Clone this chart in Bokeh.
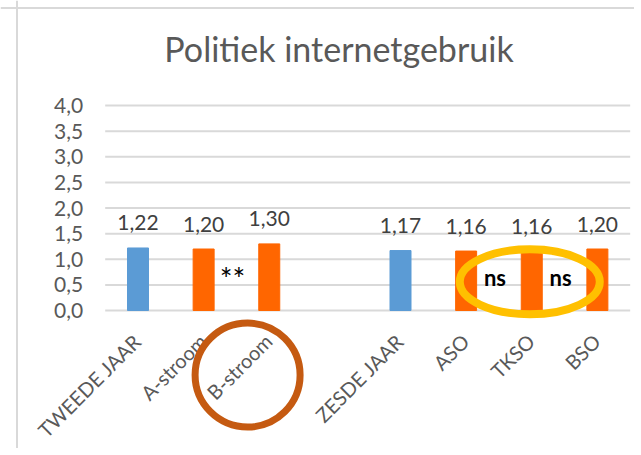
import math
from bokeh.plotting import figure
from bokeh.models import Range1d, ColumnDataSource, Span
from bokeh.core.properties import value
from bokeh.embed import file_html
from bokeh.resources import INLINE

# ---------------- data ----------------
chart_title = "Politiek internetgebruik"
categories = ["TWEEDE JAAR", "A-stroom", "B-stroom", "", "ZESDE JAAR", "ASO", "TKSO", "BSO"]
scores = [1.22, 1.20, 1.30, None, 1.17, 1.16, 1.16, 1.20]
kinds = ["year", "track", "track", None, "year", "track", "track", "track"]
y_ticks = [0.0, 0.5, 1.0, 1.5, 2.0, 2.5, 3.0, 3.5, 4.0]
y_tick_labels = ["0,0", "0,5", "1,0", "1,5", "2,0", "2,5", "3,0", "3,5", "4,0"]
sig_from = ["A-stroom", "ASO", "TKSO"]
sig_to = ["B-stroom", "TKSO", "BSO"]
sig_marks = ["**", "ns", "ns"]

# ---------------- layout ----------------
W, H = 634, 448
PX0, STEP = 137.5, 65.625   # px of first category centre, px per category
PY0, UNIT = 310.0, 51.25    # px of y=0 (from top), px per unit

def dx(px):
    return (px - PX0) / STEP

def dy(py):
    return (PY0 - py) / UNIT

FONT = value("Lato")
GRAY = "#595959"
COLORS = {"year": "#5B9BD5", "track": "#FF6600"}

p = figure(width=W, height=H, output_backend="svg", toolbar_location=None,
           x_range=Range1d(dx(0), dx(W)), y_range=Range1d(dy(H), dy(0)),
           x_axis_type=None, y_axis_type=None, min_border=0,
           background_fill_color="white", border_fill_color="white")
p.grid.visible = False
p.outline_line_color = None

# chart border (left + top)
p.add_layout(Span(location=dx(16.5), dimension="height", line_color="#D9D9D9", line_width=2))
p.add_layout(Span(location=dy(7.5), dimension="width", line_color="#D9D9D9", line_width=2))

# title
p.text(x=[dx(338.5)], y=[dy(48)], text=[chart_title], text_font=FONT,
       text_font_size="34px", text_color=GRAY, text_align="center", text_baseline="middle")

n = len(categories)
# gridlines
p.segment(x0=[-0.5] * len(y_ticks), x1=[n - 0.5] * len(y_ticks), y0=y_ticks, y1=y_ticks,
          line_color="#D9D9D9", line_width=2)

# y tick labels
p.text(x=[-0.5] * len(y_ticks), y=y_ticks, text=y_tick_labels, text_font=FONT,
       text_font_size="21px", text_color=GRAY, text_align="right", text_baseline="middle",
       x_offset=-22)

# bars
idx = [i for i, v in enumerate(scores) if v is not None]
src = ColumnDataSource(dict(
    x=idx,
    top=[scores[i] for i in idx],
    color=[COLORS[kinds[i]] for i in idx],
    label=[f"{scores[i]:.2f}".replace(".", ",") for i in idx],
))
p.vbar(x="x", top="top", bottom=0, width=0.32, color="color", source=src)

# data labels
p.text(x="x", y="top", text="label", source=src, text_font=FONT, text_font_size="21px",
       text_color="#404040", text_align="center", text_baseline="alphabetic", y_offset=-25)

# category labels (rotated)
p.text(x=list(range(n)), y=[0] * n, text=categories, angle=math.pi / 4,
       text_font=FONT, text_font_size="20px", text_color=GRAY,
       text_align="right", text_baseline="middle", x_offset=-1, y_offset=27)

# significance marks
sig_x = [(categories.index(a) + categories.index(b)) / 2 for a, b in zip(sig_from, sig_to)]
sig_src = ColumnDataSource(dict(
    x=sig_x, y=[0.5] * len(sig_x), text=sig_marks,
    style=["bold" if m == "ns" else "normal" for m in sig_marks],
    size=["30px" if m == "**" else "22px" for m in sig_marks],
))
p.text(x="x", y="y", text="text", source=sig_src, text_font=FONT, text_font_size="size",
       text_font_style="style", text_color="black", text_align="center",
       text_baseline="alphabetic", x_offset=-4, y_offset=-7)

# highlight ellipses
p.ellipse(x=[categories.index("TKSO") - 0.03], y=[0.56], width=[140], height=[65],
          width_units="screen", height_units="screen",
          fill_color=None, line_color="#FFC000", line_width=8)
p.ellipse(x=[categories.index("B-stroom") - 0.33], y=[-1.26], width=[105], height=[104],
          width_units="screen", height_units="screen",
          fill_color=None, line_color="#C55A11", line_width=7)

open("out.html", "w").write(file_html(p, INLINE))
